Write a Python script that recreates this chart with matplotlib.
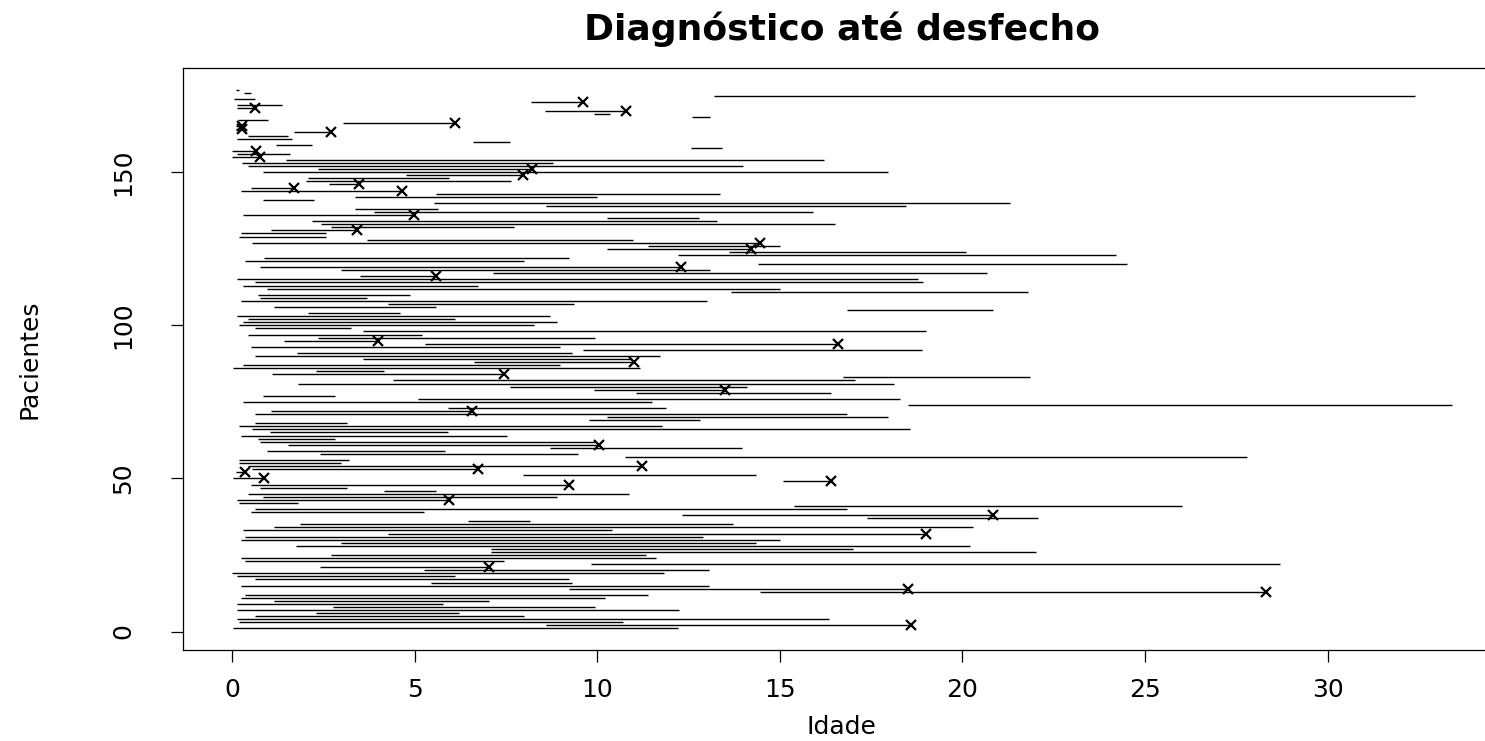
import numpy as np
import matplotlib
matplotlib.use("Agg")
import matplotlib.pyplot as plt

# idade no diagnostico (inicio) e no desfecho (fim), paciente 1..177
inicio = [
    0.02, 8.6, 0.2, 0.13, 0.63, 2.29, 0.13, 2.76, 0.13, 1.14,
    0.24, 0.37, 14.47, 9.23, 0.24, 5.46, 0.63, 0.13, 0.0, 5.26,
    2.4, 9.83, 0.37, 0.24, 2.72, 7.1, 7.1, 1.75, 3.0, 0.24,
    0.37, 4.27, 0.3, 1.14, 1.86, 6.45, 17.38, 12.31, 0.52, 0.63,
    15.4, 0.2, 0.13, 0.84, 0.45, 4.16, 0.78, 0.52, 15.1, 0.02,
    7.96, 0.1, 0.56, 0.45, 0.2, 0.2, 10.76, 2.4, 0.95, 8.71,
    1.53, 0.78, 0.71, 0.24, 1.04, 0.56, 0.2, 0.63, 9.77, 10.27,
    0.63, 1.06, 5.91, 18.5, 0.3, 5.09, 0.84, 11.06, 9.9, 7.6,
    1.81, 4.4, 16.73, 1.1, 2.29, 0.02, 0.3, 6.62, 3.58, 0.63,
    1.79, 9.62, 0.52, 5.3, 1.43, 2.35, 0.45, 3.58, 0.63, 0.2,
    0.3, 0.45, 0.13, 2.07, 16.84, 1.14, 4.27, 0.24, 0.78, 0.71,
    13.65, 0.95, 0.3, 0.63, 0.13, 3.52, 7.14, 3.0, 0.78, 14.4,
    0.37, 0.89, 12.2, 13.6, 10.27, 11.39, 0.56, 3.69, 0.2, 0.24,
    1.06, 2.72, 2.44, 2.18, 10.27, 0.3, 3.9, 3.36, 8.6, 5.52,
    0.84, 3.36, 5.59, 0.24, 0.52, 2.65, 2.03, 2.07, 4.77, 0.84,
    2.35, 0.45, 0.28, 1.49, 0.0, 0.13, 0.0, 12.57, 1.21, 6.6,
    0.13, 0.45, 1.71, 0.1, 0.1, 3.04, 0.17, 12.6, 9.9, 8.57,
    0.15, 0.13, 8.2, 0.07, 13.2, 0.33, 0.11,
]
fim = [
    12.2, 18.6, 10.7, 16.35, 8.0, 6.23, 12.25, 9.94, 5.78, 7.03,
    10.22, 11.39, 28.3, 18.5, 13.07, 9.3, 9.23, 6.1, 11.82, 13.07,
    7.03, 28.7, 7.46, 11.6, 11.34, 22.0, 17.0, 20.2, 14.36, 15.0,
    12.9, 19.0, 10.41, 20.29, 13.71, 8.17, 22.06, 20.83, 5.26, 16.84,
    26.0, 1.81, 5.95, 8.91, 10.87, 5.59, 3.15, 9.23, 16.4, 0.89,
    14.36, 0.35, 6.75, 11.23, 3.0, 3.21, 27.8, 9.47, 5.84, 13.97,
    10.05, 9.94, 2.83, 7.53, 5.91, 18.56, 11.77, 3.15, 12.81, 17.96,
    16.84, 6.56, 11.88, 33.4, 11.5, 18.28, 2.83, 16.41, 13.5, 14.1,
    18.13, 17.06, 21.86, 7.46, 4.16, 11.17, 8.97, 11.02, 10.95, 11.71,
    9.3, 18.9, 8.97, 16.6, 4.01, 9.94, 5.2, 19.0, 3.26, 8.26,
    8.9, 6.1, 8.71, 4.59, 20.83, 5.59, 9.36, 13.0, 3.69, 4.87,
    21.8, 15.0, 6.75, 18.93, 18.78, 5.59, 20.68, 13.1, 12.3, 24.5,
    8.0, 9.23, 24.2, 20.1, 14.2, 15.0, 14.47, 10.98, 2.57, 2.57,
    3.43, 7.72, 16.52, 13.28, 12.8, 4.98, 15.9, 5.63, 18.46, 21.3,
    2.24, 10.0, 13.35, 4.66, 1.71, 3.47, 7.63, 5.95, 7.96, 17.96,
    8.22, 14.0, 8.8, 16.2, 0.78, 1.6, 0.67, 13.43, 2.18, 7.6,
    1.64, 1.53, 2.72, 0.28, 0.28, 6.1, 1.0, 13.1, 10.35, 10.8,
    0.63, 1.38, 9.6, 0.63, 32.4, 0.52, 0.2,
]
# pacientes com obito (marcados com x no fim)
obitos = [2, 13, 14, 21, 32, 38, 43, 48, 49, 50, 52, 53, 54, 61, 72, 79,
          84, 88, 94, 95, 116, 119, 125, 127, 131, 136, 144, 145, 146, 149,
          151, 155, 157, 163, 164, 165, 166, 170, 171, 173]

xticks = [0, 5, 10, 15, 20, 25, 30]
yticks = [0, 50, 100, 150]

plt.rcParams['font.family'] = ['DejaVu Sans']

pacientes = np.arange(1, len(inicio) + 1)
fim = np.array(fim)
morte = np.isin(pacientes, obitos)

fig = plt.figure(figsize=(14.85, 7.41), dpi=100)
ax = fig.add_axes([0.1232, 0.1228, 0.8875, 0.7854])

ax.hlines(pacientes, inicio, fim, colors='black', lw=1.0)
ax.plot(fim[morte], pacientes[morte], 'x', color='black', ms=7, mew=1.6)

# limites estilo R (4% de folga)
ax.set_xlim(-1.34, 34.74)
ax.set_ylim(-6.04, 184.04)
ax.set_xticks(xticks)
ax.set_yticks(yticks)
for s in ax.spines.values():
    s.set_linewidth(0.9)
ax.tick_params(direction='out', length=8.5, width=0.9, labelsize=18)
ax.tick_params(axis='x', pad=12)
ax.tick_params(axis='y', pad=26, labelrotation=90)
for t in ax.get_yticklabels():
    t.set_va('center')

ax.set_xlabel('Idade', fontsize=18, labelpad=9)
ax.set_ylabel('Pacientes', fontsize=18, labelpad=50)
ax.set_title('Diagnóstico até desfecho', fontsize=26, fontweight='bold', pad=20)

fig.savefig('out.png', dpi=100)
